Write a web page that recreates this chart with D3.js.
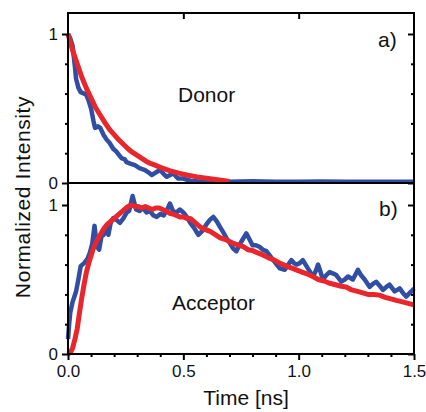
<!DOCTYPE html>
<html>
<head>
<meta charset="utf-8">
<script src="https://cdn.jsdelivr.net/npm/d3@7"></script>
<style>
  body { margin: 0; background: #fff; }
  text { font-family: Arial, "Liberation Sans", sans-serif; fill: #111; }
</style>
</head>
<body>
<div id="svg"></div>
<script>
// time [ns], normalized intensity
let donorBlueT = [0,0.01,0.02,0.03,0.035,0.045,0.055,0.07,0.08,0.09,0.1,0.11,0.117,0.13,0.14,0.155,0.168,0.18,0.196,0.21,0.22,0.233,0.245,0.254,0.27,0.29,0.31,0.334,0.35,0.363,0.38,0.399,0.415,0.428,0.445,0.456,0.468,0.478,0.5,0.53,0.56,0.6,0.7,0.8,0.9,1.0,1.1,1.2,1.3,1.4,1.5];
let donorBlueV = [1.0,0.97,0.92,0.78,0.7,0.64,0.61,0.6,0.59,0.55,0.5,0.42,0.37,0.38,0.37,0.32,0.29,0.27,0.23,0.21,0.19,0.165,0.16,0.14,0.13,0.12,0.1,0.087,0.07,0.054,0.07,0.087,0.06,0.042,0.055,0.065,0.045,0.03,0.03,0.015,0.012,0.01,0.009,0.011,0.008,0.009,0.01,0.008,0.008,0.008,0.008];

let donorRedT = [0,0.02,0.04,0.06,0.08,0.1,0.12,0.14,0.16,0.18,0.2,0.22,0.24,0.26,0.28,0.3,0.32,0.34,0.36,0.38,0.4,0.44,0.48,0.52,0.56,0.6,0.64,0.68,0.7];
let donorRedV = [1.0,0.89,0.8,0.71,0.635,0.57,0.505,0.455,0.405,0.36,0.325,0.29,0.26,0.23,0.205,0.185,0.165,0.145,0.13,0.118,0.105,0.083,0.066,0.052,0.041,0.032,0.024,0.015,0.01];

let accBlueT = [0,0.005,0.01,0.02,0.035,0.045,0.055,0.07,0.085,0.095,0.105,0.115,0.125,0.135,0.145,0.155,0.165,0.175,0.185,0.195,0.21,0.225,0.24,0.255,0.265,0.28,0.295,0.31,0.325,0.34,0.355,0.37,0.385,0.4,0.415,0.43,0.442,0.455,0.47,0.485,0.5,0.515,0.53,0.545,0.565,0.585,0.6,0.615,0.63,0.645,0.66,0.672,0.69,0.7,0.715,0.73,0.75,0.773,0.79,0.8,0.815,0.83,0.845,0.86,0.875,0.89,0.905,0.918,0.94,0.955,0.968,0.98,0.99,1.005,1.018,1.03,1.04,1.062,1.075,1.084,1.095,1.105,1.12,1.134,1.15,1.163,1.185,1.2,1.214,1.235,1.257,1.27,1.286,1.308,1.322,1.336,1.35,1.365,1.38,1.394,1.416,1.438,1.452,1.466,1.488,1.5];
let accBlueV = [0.1,0.2,0.28,0.35,0.42,0.5,0.59,0.61,0.64,0.68,0.74,0.86,0.72,0.7,0.79,0.8,0.84,0.8,0.88,0.91,0.9,0.88,0.91,0.95,0.96,1.06,0.97,0.96,0.98,0.95,0.96,0.93,0.92,0.94,0.93,0.97,1.01,0.96,0.95,0.97,0.95,0.92,0.88,0.85,0.8,0.83,0.87,0.9,0.92,0.89,0.85,0.82,0.77,0.75,0.71,0.69,0.75,0.81,0.76,0.73,0.73,0.72,0.7,0.69,0.66,0.63,0.6,0.575,0.565,0.6,0.63,0.61,0.6,0.61,0.63,0.6,0.575,0.52,0.56,0.6,0.55,0.5,0.53,0.55,0.54,0.53,0.485,0.5,0.52,0.5,0.565,0.53,0.5,0.45,0.47,0.485,0.46,0.43,0.45,0.465,0.42,0.44,0.41,0.385,0.42,0.44];

let accRedT = [0,0.01,0.02,0.03,0.04,0.05,0.06,0.07,0.08,0.09,0.1,0.11,0.125,0.14,0.155,0.17,0.185,0.2,0.215,0.23,0.245,0.26,0.275,0.29,0.305,0.32,0.335,0.35,0.365,0.38,0.395,0.41,0.425,0.44,0.455,0.47,0.485,0.5,0.515,0.53,0.545,0.56,0.575,0.59,0.605,0.62,0.64,0.66,0.68,0.7,0.72,0.74,0.76,0.78,0.8,0.82,0.845,0.87,0.895,0.918,0.94,0.965,0.99,1.015,1.04,1.062,1.085,1.11,1.134,1.16,1.185,1.206,1.23,1.255,1.278,1.3,1.325,1.35,1.375,1.4,1.423,1.45,1.475,1.5];
let accRedV = [0,0.01,0.04,0.1,0.17,0.28,0.38,0.47,0.55,0.61,0.66,0.71,0.76,0.8,0.84,0.87,0.89,0.91,0.93,0.95,0.97,0.99,1.0,0.99,0.99,0.98,0.99,0.98,0.97,0.98,0.98,0.97,0.96,0.945,0.94,0.93,0.92,0.92,0.91,0.91,0.89,0.87,0.85,0.84,0.83,0.82,0.8,0.78,0.77,0.755,0.74,0.73,0.72,0.7,0.695,0.68,0.665,0.645,0.63,0.61,0.595,0.58,0.565,0.55,0.535,0.52,0.5,0.49,0.475,0.465,0.455,0.45,0.43,0.42,0.41,0.4,0.4,0.395,0.38,0.37,0.36,0.35,0.34,0.33];

let xMajor = [0, 0.5, 1.0, 1.5];
let xMinor = [0.1,0.2,0.3,0.4,0.6,0.7,0.8,0.9,1.1,1.2,1.3,1.4];
let yMajor = [0, 1];
let yMinor = [0.2, 0.4, 0.6, 0.8];

function makeGraph() {
    let w = 426, h = 412;
    let left = 68, right = 414;
    let svg = d3.select('#svg')
        .append('svg')
        .attr('width', w)
        .attr('height', h);

    let xScale = d3.scaleLinear().domain([0, 1.5]).range([left, right]);
    let yA = d3.scaleLinear().domain([0, 1]).range([183, 34]);
    let yB = d3.scaleLinear().domain([0, 1]).range([354, 205]);

    let zip = (t, v) => t.map((d, i) => [d, v[i]]);

    function panel(y, top, bottom, blue, red) {
        let line = d3.line().x(d => xScale(d[0])).y(d => y(d[1]));
        svg.append('path')
            .attr('d', line(blue))
            .attr('fill', 'none')
            .attr('stroke', '#2f4ea4')
            .attr('stroke-width', 4.5)
            .attr('stroke-linejoin', 'round');
        svg.append('path')
            .attr('d', line(red))
            .attr('fill', 'none')
            .attr('stroke', '#e8262b')
            .attr('stroke-width', 5)
            .attr('stroke-linejoin', 'round');

        // left ticks outward, right ticks inward
        svg.append('g').attr('transform', `translate(${left},0)`)
            .call(d3.axisLeft(y).tickValues(yMajor).tickSize(6).tickPadding(4).tickFormat(d3.format('d')));
        svg.append('g').attr('transform', `translate(${left},0)`)
            .call(d3.axisLeft(y).tickValues(yMinor).tickSize(3).tickFormat(''));
        svg.append('g').attr('transform', `translate(${right},0)`)
            .call(d3.axisRight(y).tickValues(yMajor).tickSize(-6).tickFormat(''));
        svg.append('g').attr('transform', `translate(${right},0)`)
            .call(d3.axisRight(y).tickValues(yMinor).tickSize(-3).tickFormat(''));

        svg.append('rect')
            .attr('x', left).attr('y', top)
            .attr('width', right - left).attr('height', bottom - top)
            .attr('fill', 'none')
            .attr('stroke', '#000')
            .attr('stroke-width', 2);
    }

    panel(yA, 13, 183, zip(donorBlueT, donorBlueV), zip(donorRedT, donorRedV));
    panel(yB, 183, 354, zip(accBlueT, accBlueV), zip(accRedT, accRedV));

    // top ticks inward
    svg.append('g').attr('transform', 'translate(0,13)')
        .call(d3.axisTop(xScale).tickValues([0.5, 1.0]).tickSize(-6).tickFormat(''));

    // bottom axis
    svg.append('g').attr('transform', 'translate(0,354)')
        .call(d3.axisBottom(xScale).tickValues(xMajor).tickSize(6).tickPadding(5).tickFormat(d3.format('.1f')));
    svg.append('g').attr('transform', 'translate(0,354)')
        .call(d3.axisBottom(xScale).tickValues(xMinor).tickSize(3).tickFormat(''));

    svg.selectAll('.domain').remove();
    svg.selectAll('.tick line').attr('stroke', '#000').attr('stroke-width', 2);
    svg.selectAll('.tick text')
        .attr('fill', '#111')
        .style('font-family', 'Arial, "Liberation Sans", sans-serif')
        .style('font-size', '17px');

    svg.append('text')
        .attr('transform', 'rotate(-90)')
        .attr('x', -197)
        .attr('y', 30)
        .attr('text-anchor', 'middle')
        .style('font-size', '21px')
        .style('letter-spacing', '0.6px')
        .text('Normalized Intensity');

    svg.append('text')
        .attr('x', 246)
        .attr('y', 405)
        .attr('text-anchor', 'middle')
        .style('font-size', '21px')
        .text('Time [ns]');

    svg.append('text').attr('x', 178).attr('y', 102)
        .style('font-size', '21px').text('Donor');
    svg.append('text').attr('x', 172).attr('y', 310)
        .style('font-size', '21px').text('Acceptor');
    svg.append('text').attr('x', 378).attr('y', 47)
        .style('font-size', '21px').text('a)');
    svg.append('text').attr('x', 379).attr('y', 216)
        .style('font-size', '21px').text('b)');
}

window.onload = () => {
    makeGraph();
}
</script>
</body>
</html>
